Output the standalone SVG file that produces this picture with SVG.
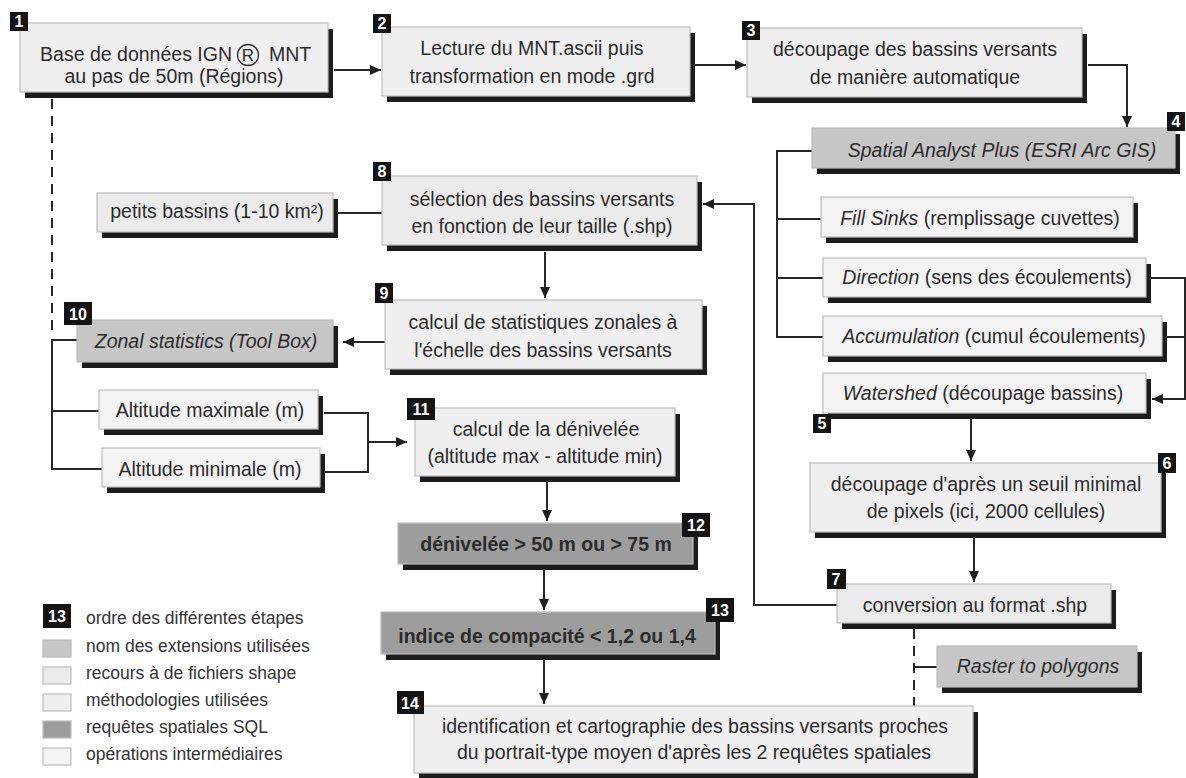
<svg xmlns="http://www.w3.org/2000/svg" width="1186" height="778" viewBox="0 0 1186 778">
<style>
.t{font-family:"Liberation Sans",Arial,sans-serif;font-size:19.5px;fill:#2b2b2b;text-anchor:middle}
.b{font-weight:bold}
.i{font-style:italic}
.lg{font-family:"Liberation Sans",Arial,sans-serif;font-size:17.5px;fill:#333}
.sh{fill:#1c1c1c}
.bx{stroke:#bdbdbd;stroke-width:1.2}
.meth{fill:#efefef}
.shp{fill:#ebebeb}
.inter{fill:#f3f3f3}
.ext{fill:#c6c6c6}
.sql{fill:#9d9d9d}
.bd{fill:#141414}
.bn{font-family:"Liberation Sans",Arial,sans-serif;font-size:16px;font-weight:bold;fill:#fff;text-anchor:middle}
.ln{fill:none;stroke:#262626;stroke-width:2}
.ar{marker-end:url(#ah)}
.da{stroke-dasharray:10 7}
</style>
<defs>
<marker id="ah" markerUnits="userSpaceOnUse" markerWidth="12" markerHeight="11" refX="11" refY="5" orient="auto">
<path d="M0,0 L11,5 L0,10 z" fill="#1e1e1e"/>
</marker>
</defs>
<rect width="1186" height="778" fill="#fff"/>

<g id="connectors">
<path class="ln ar" d="M334,70 H381"/>
<path class="ln ar" d="M695,65 H746"/>
<path class="ln ar" d="M1088,65 H1127 V127"/>
<path class="ln" d="M812,151 H777 V337 H823 M777,219 H821 M777,278 H823"/>
<path class="ln ar" d="M1151,278 H1185 V399 H1152"/>
<path class="ln" d="M1166,337 H1185"/>
<path class="ln ar" d="M971,419 V461"/>
<path class="ln ar" d="M974,538 V582"/>
<path class="ln ar" d="M837,605 H754 V204 H703"/>
<path class="ln da" d="M914,629 V706"/>
<path class="ln" d="M914,667 H937"/>
<path class="ln da" d="M52,99 V332"/>
<path class="ln" d="M338,213 H382"/>
<path class="ln ar" d="M545,252 V298"/>
<path class="ln ar" d="M385,342 H343"/>
<path class="ln" d="M77,340 H52 V469 H102 M52,411 H99"/>
<path class="ln" d="M324,413 H368 V472 H325"/>
<path class="ln ar" d="M368,442 H407"/>
<path class="ln ar" d="M547,482 V521"/>
<path class="ln ar" d="M544,570 V610"/>
<path class="ln ar" d="M544,658 V704"/>
</g>

<g id="n1">
<rect class="sh" x="25" y="29" width="308" height="69"/>
<rect class="bx meth" x="20" y="23" width="308" height="69"/>
<text class="t" y="61"><tspan x="232" style="text-anchor:end">Base de données IGN</tspan><tspan x="248" style="font-size:17px">R</tspan><tspan x="269" style="text-anchor:start">MNT</tspan></text>
<circle cx="248" cy="55" r="10.5" fill="none" stroke="#333" stroke-width="1.3"/>
<text class="t" x="174" y="83">au pas de 50m (Régions)</text>
<rect class="bd" x="10" y="12" width="18" height="19"/><text class="bn" x="19" y="27">1</text>
</g>

<g id="n2">
<rect class="sh" x="387" y="33" width="308" height="69"/>
<rect class="bx meth" x="382" y="27" width="308" height="69"/>
<text class="t" x="532" y="55">Lecture du MNT.ascii puis</text>
<text class="t" x="532" y="83">transformation en mode .grd</text>
<rect class="bd" x="373" y="14" width="18" height="19"/><text class="bn" x="382" y="29">2</text>
</g>

<g id="n3">
<rect class="sh" x="752" y="34" width="335" height="69"/>
<rect class="bx meth" x="747" y="28" width="335" height="69"/>
<text class="t" x="915" y="56">découpage des bassins versants</text>
<text class="t" x="915" y="84">de manière automatique</text>
<rect class="bd" x="742" y="21" width="18" height="19"/><text class="bn" x="751" y="36">3</text>
</g>

<g id="n4">
<rect class="sh" x="817" y="134" width="363" height="40"/>
<rect class="bx ext" x="812" y="128" width="363" height="40"/>
<text class="t i" x="1002" y="157">Spatial Analyst Plus (ESRI Arc GIS)</text>
<rect class="bd" x="1167" y="112" width="18" height="19"/><text class="bn" x="1176" y="127">4</text>
</g>

<g id="n-fill">
<rect class="sh" x="826" y="203" width="312" height="40"/>
<rect class="bx inter" x="821" y="197" width="312" height="40"/>
<text class="t" x="980" y="225"><tspan class="i">Fill Sinks</tspan> (remplissage cuvettes)</text>
</g>

<g id="n-direction">
<rect class="sh" x="828" y="264" width="323" height="39"/>
<rect class="bx inter" x="823" y="258" width="323" height="39"/>
<text class="t" x="987" y="284"><tspan class="i">Direction</tspan> (sens des écoulements)</text>
</g>

<g id="n-accumulation">
<rect class="sh" x="828" y="322" width="339" height="40"/>
<rect class="bx inter" x="823" y="316" width="339" height="40"/>
<text class="t" x="994" y="343"><tspan class="i">Accumulation</tspan> (cumul écoulements)</text>
</g>

<g id="n5">
<rect class="sh" x="828" y="379" width="323" height="40"/>
<rect class="bx inter" x="823" y="373" width="323" height="40"/>
<text class="t" x="983" y="400"><tspan class="i">Watershed</tspan> (découpage bassins)</text>
<rect class="bd" x="813" y="414" width="18" height="19"/><text class="bn" x="822" y="429">5</text>
</g>

<g id="n6">
<rect class="sh" x="815" y="469" width="351" height="69"/>
<rect class="bx meth" x="810" y="463" width="351" height="69"/>
<text class="t" x="986" y="491">découpage d'après un seuil minimal</text>
<text class="t" x="986" y="518">de pixels (ici, 2000 cellules)</text>
<rect class="bd" x="1158" y="453" width="18" height="20"/><text class="bn" x="1167" y="469">6</text>
</g>

<g id="n7">
<rect class="sh" x="842" y="590" width="274" height="39"/>
<rect class="bx shp" x="837" y="584" width="274" height="39"/>
<text class="t" x="975" y="612">conversion au format .shp</text>
<rect class="bd" x="827" y="569" width="19" height="20"/><text class="bn" x="836" y="585">7</text>
</g>

<g id="n-raster">
<rect class="sh" x="942" y="652" width="200" height="41"/>
<rect class="bx ext" x="937" y="646" width="200" height="41"/>
<text class="t i" x="1038" y="673">Raster to polygons</text>
</g>

<g id="n8">
<rect class="sh" x="387" y="182" width="315" height="69"/>
<rect class="bx shp" x="382" y="176" width="315" height="69"/>
<text class="t" x="542" y="206">sélection des bassins versants</text>
<text class="t" x="542" y="233">en fonction de leur taille (.shp)</text>
<rect class="bd" x="373" y="162" width="18" height="19"/><text class="bn" x="382" y="177">8</text>
</g>

<g id="n-petits">
<rect class="sh" x="102" y="199" width="236" height="39"/>
<rect class="bx shp" x="97" y="193" width="236" height="39"/>
<text class="t" x="217" y="218">petits bassins (1-10 km²)</text>
</g>

<g id="n9">
<rect class="sh" x="390" y="306" width="317" height="69"/>
<rect class="bx meth" x="385" y="300" width="317" height="69"/>
<text class="t" x="543" y="329">calcul de statistiques zonales à</text>
<text class="t" x="543" y="357">l'échelle des bassins versants</text>
<rect class="bd" x="375" y="283" width="18" height="20"/><text class="bn" x="384" y="299">9</text>
</g>

<g id="n10">
<rect class="sh" x="82" y="326" width="256" height="42"/>
<rect class="bx ext" x="77" y="320" width="256" height="42"/>
<text class="t i" x="206" y="348">Zonal statistics (Tool Box)</text>
<rect class="bd" x="64" y="302" width="28" height="23"/><text class="bn" x="78" y="320">10</text>
</g>

<g id="n-altmax">
<rect class="sh" x="104" y="396" width="219" height="39"/>
<rect class="bx inter" x="99" y="390" width="219" height="39"/>
<text class="t" x="210" y="417">Altitude maximale (m)</text>
</g>

<g id="n-altmin">
<rect class="sh" x="107" y="454" width="218" height="39"/>
<rect class="bx inter" x="102" y="448" width="218" height="39"/>
<text class="t" x="210" y="476">Altitude minimale (m)</text>
</g>

<g id="n11">
<rect class="sh" x="420" y="414" width="260" height="68"/>
<rect class="bx meth" x="415" y="408" width="260" height="68"/>
<text class="t" x="546" y="436">calcul de la dénivelée</text>
<text class="t" x="545" y="463">(altitude max - altitude min)</text>
<rect class="bd" x="407" y="398" width="28" height="22"/><text class="bn" x="421" y="415">11</text>
</g>

<g id="n12">
<rect class="sh" x="403" y="529" width="295" height="41"/>
<rect class="bx sql" x="398" y="523" width="295" height="41"/>
<text class="t b" x="546" y="551">dénivelée &gt; 50 m ou &gt; 75 m</text>
<rect class="bd" x="682" y="513" width="28" height="24"/><text class="bn" x="696" y="531">12</text>
</g>

<g id="n13">
<rect class="sh" x="386" y="618" width="334" height="42"/>
<rect class="bx sql" x="381" y="612" width="334" height="42"/>
<text class="t b" x="547" y="643">indice de compacité &lt; 1,2 ou 1,4</text>
<rect class="bd" x="706" y="598" width="28" height="24"/><text class="bn" x="720" y="616">13</text>
</g>

<g id="n14">
<rect class="sh" x="419" y="712" width="559" height="67"/>
<rect class="bx meth" x="414" y="706" width="559" height="67"/>
<text class="t" x="695" y="733">identification et cartographie des bassins versants proches</text>
<text class="t" x="694" y="759">du portrait-type moyen d'après les 2 requêtes spatiales</text>
<rect class="bd" x="397" y="691" width="27" height="23"/><text class="bn" x="410" y="709">14</text>
</g>

<g id="legend">
<rect class="bd" x="43" y="604" width="28" height="24"/><text class="bn" x="57" y="622">13</text>
<text class="lg" x="86" y="624">ordre des différentes étapes</text>
<rect class="bx ext" x="43" y="640" width="28" height="17"/>
<text class="lg" x="86" y="652">nom des extensions utilisées</text>
<rect class="bx shp" x="43" y="667" width="28" height="17"/>
<text class="lg" x="86" y="679">recours à de fichiers shape</text>
<rect class="bx meth" x="43" y="694" width="28" height="17"/>
<text class="lg" x="86" y="706">méthodologies utilisées</text>
<rect class="bx sql" x="43" y="721" width="28" height="17"/>
<text class="lg" x="86" y="733">requêtes spatiales SQL</text>
<rect class="bx inter" x="43" y="748" width="28" height="17"/>
<text class="lg" x="86" y="760">opérations intermédiaires</text>
</g>
</svg>
